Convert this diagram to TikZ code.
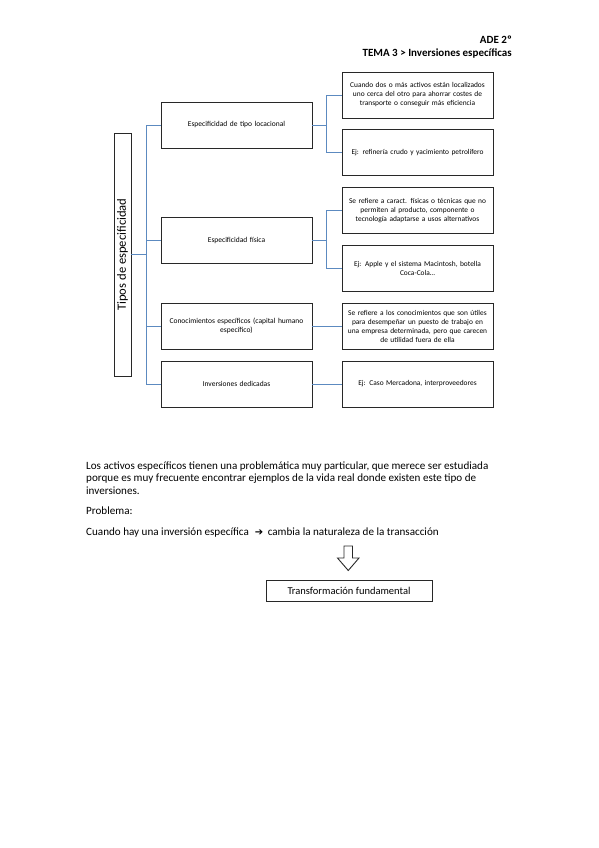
\documentclass[tikz,border=0pt]{standalone}
\usepackage{fontspec}
\setmainfont{Carlito}
\newfontfamily\symfont{DejaVu Sans}
\usetikzlibrary{positioning}
\definecolor{conn}{RGB}{92,138,192}
\definecolor{boxline}{RGB}{40,40,40}
\tikzset{
  lvlone/.style={draw=boxline,line width=0.9pt,minimum width=151pt,minimum height=46pt,text width=148pt,align=center,font=\fontsize{7.5}{9}\selectfont,inner sep=1pt},
  lvltwo/.style={draw=boxline,line width=0.9pt,minimum width=151pt,minimum height=46pt,text width=150pt,align=center,font=\fontsize{7.4}{9}\selectfont,inner sep=0.5pt},
  link/.style={draw=conn,line width=0.9pt},
  bodytext/.style={anchor=base west,font=\fontsize{11.1}{12}\selectfont,inner sep=0pt},
}
\begin{document}
\begin{tikzpicture}[x=1pt,y=-1pt]
\useasboundingbox[fill=white] (0,0) rectangle (599,848);
% header
\node[anchor=base east,font=\bfseries\fontsize{11}{12}\selectfont,inner sep=0pt] (h1) at (512,44) {ADE 2º};
\node[anchor=base east,font=\bfseries\fontsize{11}{12}\selectfont,inner sep=0pt] (h2) at (512,57) {TEMA 3 > Inversiones específicas};
% vertical box
\node[draw=boxline,line width=0.9pt,minimum width=17pt,minimum height=243pt,inner sep=0pt] (tipos) at (122.5,254.5) {};
\node[rotate=90,font=\fontsize{12.6}{13}\selectfont,inner sep=0pt] (tiposlbl) at (tipos.center) {Tipos de especificidad};
% level 1
\node[lvlone] (l1) at (236.5,125) {Especificidad de tipo locacional};
\node[lvlone] (l2) at (236.5,240) {Especificidad física};
\node[lvlone] (l3) at (236.5,326) {Conocimientos específicos (capital humano\\específico)};
\node[lvlone] (l4) at (236.5,384) {Inversiones dedicadas};
% level 2
\node[lvltwo] (l1a) at (417.5,95) {Cuando dos o más activos están localizados\\uno cerca del otro para ahorrar costes de\\transporte o conseguir más eficiencia};
\node[lvltwo] (l1b) at (417.5,152.5) {Ej: refinería crudo y yacimiento petrolífero};
\node[lvltwo] (l2a) at (417.5,210.5) {Se refiere a caract. físicas o técnicas que no\\permiten al producto, componente o\\tecnología adaptarse a usos alternativos};
\node[lvltwo] (l2b) at (417.5,268.5) {Ej: Apple y el sistema Macintosh, botella\\Coca-Cola\dots};
\node[lvltwo] (l3a) at (417.5,326) {Se refiere a los conocimientos que son útiles\\para desempeñar un puesto de trabajo en\\una empresa determinada, pero que carecen\\de utilidad fuera de ella};
\node[lvltwo] (l3b) at (417.5,384) {Ej: Caso Mercadona, interproveedores};
% connectors
\coordinate (j) at (146,254.5);
\coordinate (k1) at (326.5,125);
\coordinate (k2) at (326.5,240);
\draw[link] (tipos.east) -- (j);
\draw[link] (j) |- (l1.west);
\draw[link] (j) |- (l2.west);
\draw[link] (j) |- (l3.west);
\draw[link] (j) |- (l4.west);
\draw[link] (l1.east) -- (k1);
\draw[link] (k1) |- (l1a.west);
\draw[link] (k1) |- (l1b.west);
\draw[link] (l2.east) -- (k2);
\draw[link] (k2) |- (l2a.west);
\draw[link] (k2) |- (l2b.west);
\draw[link] (l3.east) -- (l3a.west);
\draw[link] (l4.east) -- (l3b.west);
% body text
\node[bodytext] (p1) at (86,469) {Los activos específicos tienen una problemática muy particular, que merece ser estudiada};
\node[bodytext] (p2) at (86,481.5) {porque es muy frecuente encontrar ejemplos de la vida real donde existen este tipo de};
\node[bodytext] (p3) at (86,494) {inversiones.};
\node[bodytext] (p4) at (86,514.5) {Problema:};
\node[bodytext] (p5) at (86,535.5) {Cuando hay una inversión específica\hspace{6pt}{\symfont\bfseries\fontsize{10}{10}\selectfont ➔}\hspace{2pt} cambia la naturaleza de la transacción};
% open arrow
\draw[boxline,line width=0.9pt,line join=miter] (344,546) -- (352.5,546) -- (352.5,558) -- (359,558) -- (348.25,570.5) -- (337.5,558) -- (344,558) -- cycle;
% final box
\node[draw=boxline,line width=0.9pt,minimum width=166pt,minimum height=21pt,font=\fontsize{10.5}{11}\selectfont,inner sep=1pt] (tf) at (349,590.5) {Transformación fundamental};
\end{tikzpicture}
\end{document}
